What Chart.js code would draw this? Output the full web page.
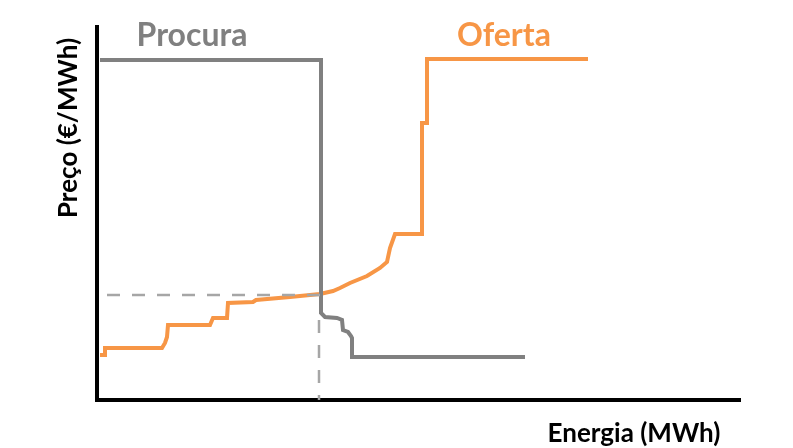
<!DOCTYPE html>
<html>
<head>
<meta charset="utf-8">
<script src="https://cdn.jsdelivr.net/npm/chart.js@4/dist/chart.umd.min.js"></script>
<style>
  body { margin: 0; background: #fff; }
</style>
</head>
<body>
<canvas id="chart" width="793" height="448"></canvas>
<script>
// values (x = energia, y = preço, arbitrary units)
let procuraX = [3, 224, 224, 228, 240, 245, 246, 251, 254, 255, 255, 428];
let procuraY = [340, 340, 87, 83, 82, 80, 70, 68, 64, 62, 43, 43];

let ofertaX = [3, 8, 8, 65, 68, 70, 71, 113, 116, 130, 131, 156, 159, 193, 223, 236, 243, 253, 270, 283, 290, 293, 298, 325, 325, 330, 330, 491];
let ofertaY = [45, 45, 52, 52, 57, 63, 75, 75, 82, 82, 97, 98, 100, 103, 106, 109, 112, 117, 124, 132, 138, 152, 166, 166, 277, 277, 341, 341];

// market clearing point
let equilibrioX = 223;
let equilibrioY = 105;

let xMax = 643;
let yMax = 373;

let seriesLabels = ['Procura', 'Oferta'];
let xTitle = 'Energia (MWh)';
let yTitle = 'Preço (€/MWh)';

function toPoints(xs, ys) {
   return xs.map((x, i) => ({ x: x, y: ys[i] }));
}

let grey = '#808080';
let orange = '#f79646';

let textPlugin = {
   id: 'texts',
   afterDraw(chart) {
      let ctx = chart.ctx;
      ctx.save();
      ctx.textBaseline = 'alphabetic';
      ctx.textAlign = 'center';

      ctx.font = 'bold 32px Lato';
      ctx.fillStyle = grey;
      ctx.fillText(seriesLabels[0], 192, 46);
      ctx.fillStyle = orange;
      ctx.fillText(seriesLabels[1], 504, 46);

      ctx.fillStyle = '#000';
      ctx.font = 'bold 26px Lato';
      ctx.fillText(xTitle, 634, 442);

      ctx.translate(77, 128);
      ctx.rotate(-Math.PI / 2);
      ctx.fillText(yTitle, 0, 0);
      ctx.restore();
   }
};

new Chart(document.getElementById('chart'), {
   type: 'line',
   data: {
      datasets: [
         {
            label: 'guia horizontal',
            data: [{ x: 10, y: equilibrioY }, { x: equilibrioX, y: equilibrioY }],
            borderColor: '#a6a6a6',
            borderWidth: 2.5,
            borderDash: [13, 12]
         },
         {
            label: 'guia vertical',
            data: [{ x: equilibrioX - 1, y: 80 }, { x: equilibrioX - 1, y: 0 }],
            borderColor: '#a6a6a6',
            borderWidth: 2.5,
            borderDash: [13, 12]
         },
         {
            label: seriesLabels[0],
            data: toPoints(procuraX, procuraY),
            borderColor: grey,
            borderWidth: 4
         },
         {
            label: seriesLabels[1],
            data: toPoints(ofertaX, ofertaY),
            borderColor: orange,
            borderWidth: 4
         }
      ]
   },
   options: {
      responsive: false,
      animation: false,
      clip: false,
      elements: {
         point: { radius: 0, hoverRadius: 0 },
         line: { tension: 0, borderJoinStyle: 'miter', fill: false }
      },
      layout: { padding: { left: 97, right: 53, top: 27, bottom: 48 } },
      plugins: {
         legend: { display: false },
         tooltip: { enabled: false }
      },
      scales: {
         x: {
            type: 'linear',
            min: 0,
            max: xMax,
            grid: { display: false, drawTicks: false },
            ticks: { display: false },
            border: { display: true, color: '#000', width: 4 },
            afterFit: (s) => { s.height = 0; }
         },
         y: {
            min: 0,
            max: yMax,
            grid: { display: false, drawTicks: false },
            ticks: { display: false },
            border: { display: true, color: '#000', width: 4 },
            afterFit: (s) => { s.width = 0; }
         }
      }
   },
   plugins: [textPlugin]
});
</script>
</body>
</html>
